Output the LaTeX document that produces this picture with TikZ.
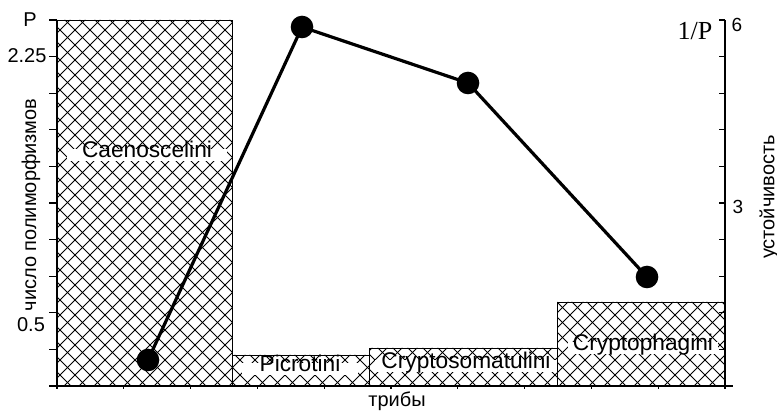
\documentclass[tikz,border=0pt]{standalone}
\usepackage{fontspec}
\setmainfont{Liberation Sans}
\newfontfamily\serifF{Liberation Serif}
\begin{document}
\begin{tikzpicture}[x=1pt,y=-1pt,
  bar/.style={draw=black,line width=0.9pt},
  hatchline/.style={line width=0.9pt},
  barlabel/.style={fill=white,inner ysep=1.5pt,text height=0.72em,text depth=0.2em,font=\fontsize{22.7}{26}\selectfont},
  ticklab/.style={inner sep=0pt,font=\fontsize{20}{24}\selectfont},
  axtitle/.style={inner sep=0pt,font=\fontsize{20}{24}\selectfont},
  dot/.style={circle,fill=black,minimum size=22.6pt,inner sep=0pt},
  dataline/.style={line width=3.2pt},
  axisline/.style={line width=1.6pt},
  tickline/.style={line width=1.2pt}]

\useasboundingbox (0,0) rectangle (777,411);

% hatching of the bars
\begin{scope}
  \clip (57,20) rectangle (232,386)
        (232,355) rectangle (369,386)
        (369,348) rectangle (557,386)
        (557,302) rectangle (725,386);
  \foreach \c in {-420,-405,...,1200}{
    \draw[hatchline] (\c,0) -- ++(420,420);
    \draw[hatchline] (\c,0) -- ++(-420,420);
  }
\end{scope}

% bars
\draw[bar] (57,20) rectangle (232,386);
\draw[bar] (232,355) rectangle (369,386);
\draw[bar] (369,348) rectangle (557,386);
\draw[bar] (557,302) rectangle (725,386);

% bar labels
\node[barlabel,inner xsep=15pt] (lc) at (147,155) {Caenoscelini};
\node[barlabel,inner xsep=18pt] (lp) at (300,369) {Picrotini};
\node[barlabel,inner xsep=6pt] (ls) at (466,366) {Cryptosomatulini};
\node[barlabel,inner xsep=5pt] (lf) at (643,348) {Cryptophagini};

% axes
\coordinate (o) at (57,386);
\coordinate (lt) at (57,20);
\coordinate (r0) at (725,386);
\coordinate (rt) at (725,20);
\coordinate (be) at (733,386);
\draw[axisline] (lt) -- (o) -- (be);
\draw[axisline] (rt) -- (r0);

% ticks
\foreach \k in {0,...,10}{
  \draw[tickline] (49,{20+36.6*\k}) -- (57,{20+36.6*\k});
  \draw[tickline] (719,{20+36.6*\k}) -- (725,{20+36.6*\k});
  \draw[tickline] ({57+66.8*\k},386) -- ({57+66.8*\k},389);
}

% tick labels
\node[ticklab] (tp) at (30,20) {P};
\node[ticklab] (t225) at (27,56) {2.25};
\node[ticklab] (t05) at (31,325) {0.5};
\node[inner sep=0pt,font=\serifF\fontsize{26}{30}\selectfont] (tip) at (695,31) {1/P};
\node[ticklab,font=\fontsize{19}{22}\selectfont] (t6) at (737,25) {6};
\node[ticklab,font=\fontsize{19}{22}\selectfont] (t3) at (738,207) {3};

% axis titles
\node[axtitle,rotate=90] (ty) at (31,205) {число полиморфизмов};
\node[axtitle,rotate=90] (ty2) at (769,197) {устойчивость};
\node[axtitle] (tx) at (397,401) {трибы};

% data
\node[dot] (p1) at (148,360) {};
\node[dot] (p2) at (302,27) {};
\node[dot] (p3) at (468,83) {};
\node[dot] (p4) at (647,277) {};
\draw[dataline] (p1.center) -- (p2.center) -- (p3.center) -- (p4.center);
\end{tikzpicture}
\end{document}
